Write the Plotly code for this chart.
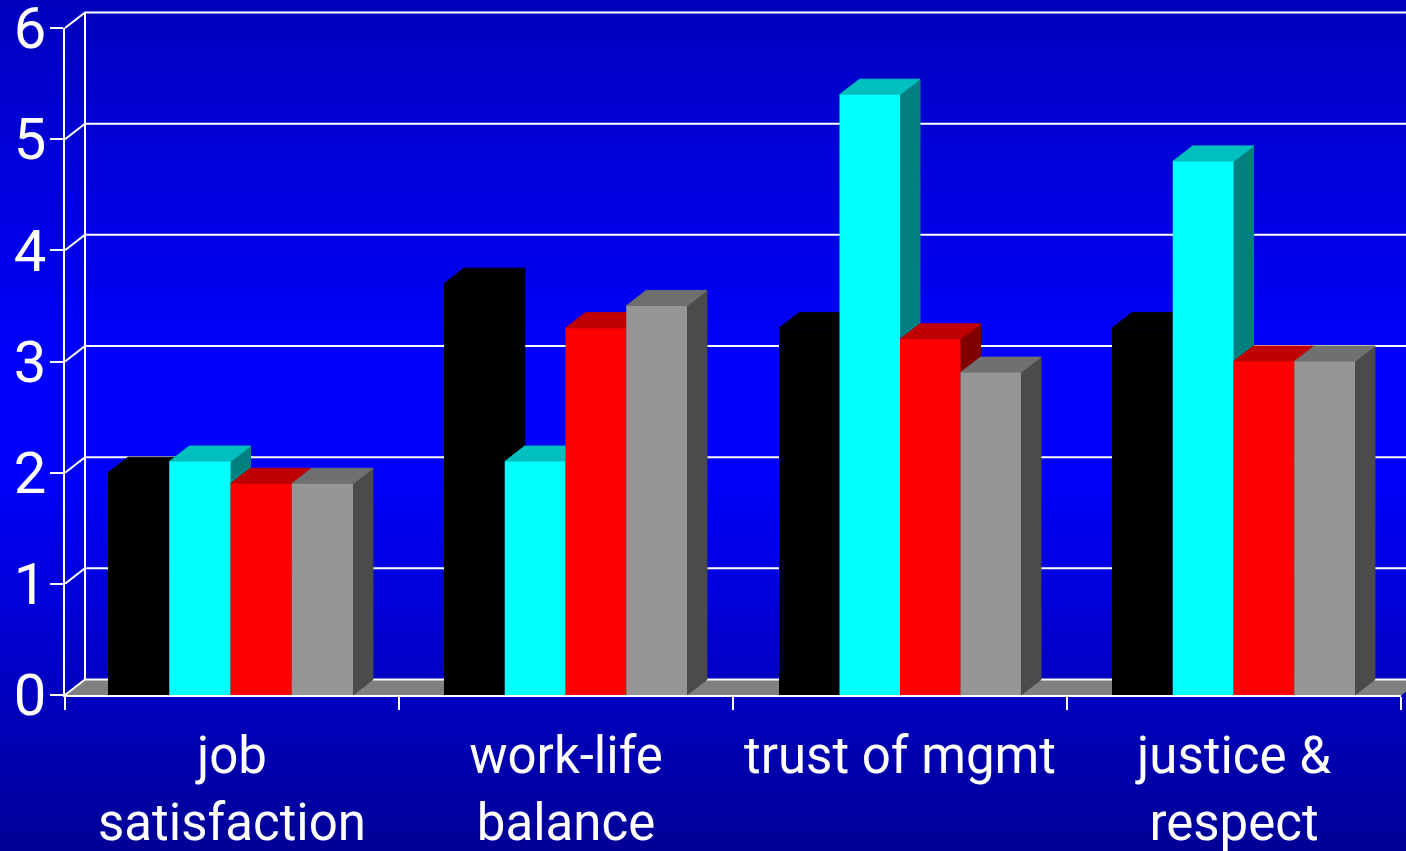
import numpy as np
import plotly.graph_objects as go

categories = ["job<br>satisfaction", "work-life<br>balance", "trust of mgmt", "justice &amp;<br>respect"]
series_black = [2.0, 3.7, 3.3, 3.3]
series_cyan = [2.1, 2.1, 5.4, 4.8]
series_red = [1.9, 3.3, 3.2, 3.0]
series_gray = [1.9, 3.5, 2.9, 3.0]
y_ticks = [0, 1, 2, 3, 4, 5, 6]

W, H = 1406, 851
X0, X1, Y0, Y6 = 65, 1401, 695, 28
PX_X = (X1 - X0) / 4
PX_Y = (Y0 - Y6) / 6
DX = 20 / PX_X
DY = 15.5 / PX_Y
GROUP_W = [245 / 4 / PX_X, 243 / 4 / PX_X, 242 / 4 / PX_X, 243 / 4 / PX_X]
GROUP_START = [43 / PX_X, 45 / PX_X, 46 / PX_X, 45 / PX_X]
FONT = "Roboto"
LW = 2

styles = [
    (series_black, "#000000", "#000000", "#000000"),
    (series_cyan, "#00FFFF", "#00BFBF", "#008080"),
    (series_red, "#FF0000", "#BF0000", "#800000"),
    (series_gray, "#969696", "#707070", "#4B4B4B"),
]

fig = go.Figure()

xr = [(0 - X0) / PX_X, (W - X0) / PX_X]
yr = [(Y0 - H) / PX_Y, Y0 / PX_Y]

# background gradient
rows = np.linspace(yr[0], yr[1], 426)
fig.add_trace(go.Heatmap(
    x=xr, y=rows, z=[[r, r] for r in rows], zmin=yr[0], zmax=yr[1],
    colorscale=[[0, "#000096"], [0.46, "#0000FF"], [0.56, "#0000FF"], [1, "#0000BE"]],
    showscale=False, hoverinfo="skip", zsmooth="best", xaxis="x", yaxis="y"))


def poly(xs, ys, color):
    fig.add_trace(go.Scatter(x=xs + xs[:1], y=ys + ys[:1], mode="lines", fill="toself", fillcolor=color,
                             line=dict(width=1, color=color),
                             showlegend=False, hoverinfo="skip", xaxis="x", yaxis="y"))


def wire(xs, ys):
    fig.add_trace(go.Scatter(x=xs, y=ys, mode="lines", line=dict(width=LW, color="white"),
                             showlegend=False, hoverinfo="skip", xaxis="x", yaxis="y"))


# floor, walls
poly([0, DX, 4 + DX, 4], [0, DY, DY, 0], "#808080")
for v in y_ticks:
    wire([0, DX, 4 + DX], [v, v + DY, v + DY])
wire([DX, DX], [DY, 6 + DY])

# depth faces, left to right
for g in range(4):
    for k, (vals, front, top, side) in enumerate(styles):
        l = g + GROUP_START[g] + k * GROUP_W[g]
        r = l + GROUP_W[g]
        v = vals[g]
        poly([r, r + DX, r + DX, r], [0, DY, v + DY, v], side)
        poly([l, l + DX, r + DX, r], [v, v + DY, v + DY, v], top)

# fronts
for k, (vals, front, top, side) in enumerate(styles):
    fig.add_trace(go.Bar(
        x=[g + 0.5 for g in range(4)], y=vals, width=GROUP_W,
        offset=[GROUP_START[g] + k * GROUP_W[g] - 0.5 for g in range(4)],
        marker=dict(color=front, line=dict(width=0)), showlegend=False,
        hoverinfo="skip", xaxis="x2", yaxis="y2"))

fig.update_layout(
    template="none",
    width=W, height=H, margin=dict(l=0, r=0, t=0, b=0, pad=0), autosize=False,
    paper_bgcolor="#0000C8", plot_bgcolor="rgba(0,0,0,0)",
    barmode="overlay", showlegend=False,
    xaxis=dict(domain=[0, 1], range=xr, visible=False, fixedrange=True, automargin=False),
    yaxis=dict(domain=[0, 1], range=yr, visible=False, fixedrange=True, automargin=False),
    xaxis2=dict(domain=[X0 / W, X1 / W], range=[0, 4], anchor="y2", showgrid=False, zeroline=False,
                automargin=False, ticklabeloverflow="allow",
                showline=True, linecolor="white", linewidth=LW,
                tickmode="array", tickvals=[0.5, 1.5, 2.5, 3.5], ticktext=categories,
                ticks="", tickangle=0, ticklabelstandoff=15,
                tickfont=dict(family=FONT, size=51, color="white"),
                minor=dict(tickmode="array", tickvals=[0, 1, 2, 3, 4], ticks="outside", ticklen=13,
                           tickwidth=LW, tickcolor="white", showgrid=False),
                fixedrange=True),
    yaxis2=dict(domain=[(H - Y0) / H, (H - Y6) / H], range=[0, 6], anchor="x2", showgrid=False, zeroline=False,
                automargin=False, ticklabeloverflow="allow",
                showline=True, linecolor="white", linewidth=LW,
                tickmode="array", tickvals=y_ticks, ticks="outside", ticklen=13, tickwidth=LW,
                tickcolor="white", ticklabelstandoff=-8,
                tickfont=dict(family=FONT, size=58, color="white"), fixedrange=True),
)

fig.write_html("out.html", config=dict(displayModeBar=False),
               post_script="document.body.style.margin='0';document.body.style.overflow='hidden';")
